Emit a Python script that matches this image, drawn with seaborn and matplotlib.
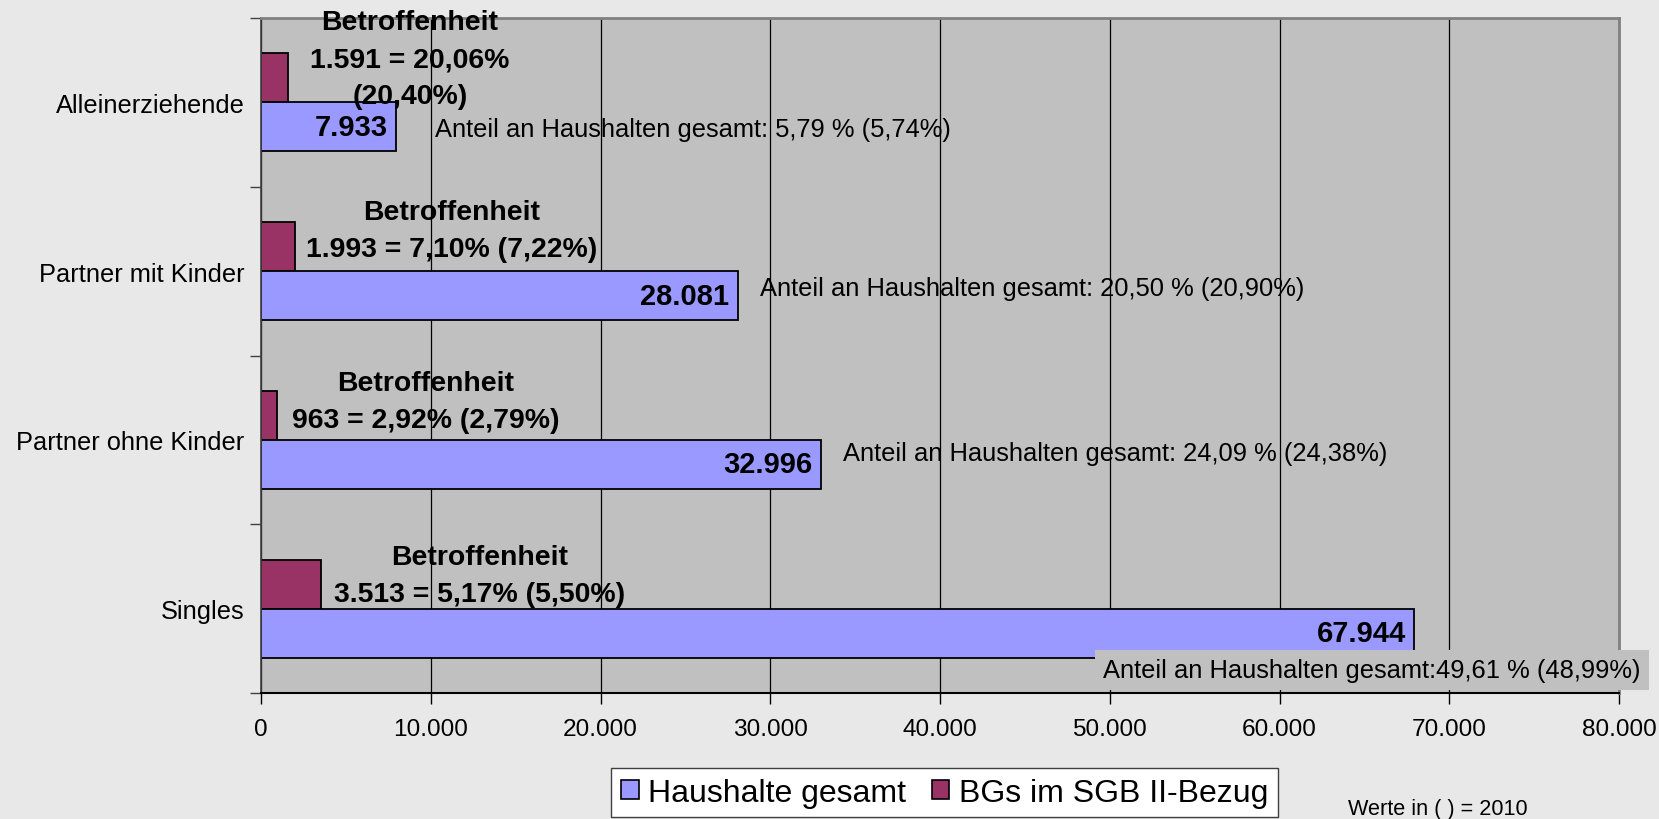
import seaborn as sns
import matplotlib.pyplot as plt
import pandas as pd
from matplotlib.patches import Patch
from matplotlib.ticker import FixedLocator, FuncFormatter

# data (2011, values in brackets = 2010)
categories = ["Alleinerziehende", "Partner mit Kinder", "Partner ohne Kinder", "Singles"]
haushalte = [7933, 28081, 32996, 67944]
bgs = [1591, 1993, 963, 3513]
betr_quote = ["20,06%", "7,10%", "2,92%", "5,17%"]
betr_quote_2010 = ["20,40%", "7,22%", "2,79%", "5,50%"]
anteil_labels = [
    "Anteil an Haushalten gesamt: 5,79 % (5,74%)",
    "Anteil an Haushalten gesamt: 20,50 % (20,90%)",
    "Anteil an Haushalten gesamt: 24,09 % (24,38%)",
    "Anteil an Haushalten gesamt:49,61 % (48,99%)",
]
series = ["Haushalte gesamt", "BGs im SGB II-Bezug"]
x_ticks = [0, 10000, 20000, 30000, 40000, 50000, 60000, 70000, 80000]

# label layout (data units)
betr_x = [8780, 11250, 9720, 12900]
betr_dy = [-0.255, -0.241, -0.23, -0.199]
anteil_x = [10250, 29400, 34290, 49600]
anteil_dy = [0.158, 0.10, 0.078, 0.364]

colors = {"Haushalte gesamt": "#9999ff", "BGs im SGB II-Bezug": "#993366"}


def de_num(v):
    return f"{int(v):,}".replace(",", ".")


df = pd.concat([
    pd.DataFrame({"Kategorie": categories, "Reihe": series[0], "Wert": haushalte}),
    pd.DataFrame({"Kategorie": categories, "Reihe": series[1], "Wert": bgs}),
])

sns.set_style("white")
plt.rcParams["font.family"] = ["Liberation Sans", "DejaVu Sans"]
plt.rcParams["text.color"] = "black"

fig = plt.figure(figsize=(16.59, 8.2), dpi=100, facecolor="#e8e8e8")
ax = fig.add_axes([261 / 1659, 1 - 694 / 820, 1358 / 1659, 675 / 820])
ax.set_facecolor("#c0c0c0")

sns.barplot(data=df, y="Kategorie", x="Wert", hue="Reihe", order=categories,
            hue_order=[series[1], series[0]], palette=colors, orient="h",
            width=0.58, saturation=1, edgecolor="black", linewidth=1.3,
            errorbar=None, legend=False, ax=ax)

ax.set_xlim(0, 80000)
ax.set_ylim(3.5, -0.5)
ax.set_xlabel("")
ax.set_ylabel("")

# grid + axes styling
ax.xaxis.set_major_locator(FixedLocator(x_ticks))
ax.xaxis.set_major_formatter(FuncFormatter(lambda v, _: de_num(v)))
ax.xaxis.grid(True, color="black", linewidth=0.9)
ax.set_axisbelow(True)
ax.yaxis.set_minor_locator(FixedLocator([i - 0.5 for i in range(len(categories) + 1)]))
ax.tick_params(axis="y", which="major", length=0, pad=12, labelsize=18.3, labelcolor="black")
ax.tick_params(axis="y", which="minor", length=8, width=1, color="#404040", left=True)
ax.tick_params(axis="x", length=8, width=1, color="black", pad=10, labelsize=17.6,
               bottom=True, labelcolor="black")
for side in ["top", "right"]:
    ax.spines[side].set_color("#808080")
    ax.spines[side].set_linewidth(2)
ax.spines["left"].set_color("#404040")
ax.spines["bottom"].set_color("black")
ax.spines["left"].set_linewidth(1.2)
ax.spines["bottom"].set_linewidth(1.5)

# value labels inside the blue bars
for patch, v in zip(ax.containers[1], haushalte):
    ax.annotate(de_num(v), (patch.get_width(), patch.get_y() + patch.get_height() / 2),
                xytext=(-6, 0), textcoords="offset points", ha="right", va="center",
                fontsize=21, fontweight="bold")

# Betroffenheit labels
for i, cat in enumerate(categories):
    sep = "\n" if i == 0 else " "
    txt = f"Betroffenheit\n{de_num(bgs[i])} = {betr_quote[i]}{sep}({betr_quote_2010[i]})"
    ax.text(betr_x[i], i + betr_dy[i], txt, ha="center", va="center",
            fontsize=20.4, fontweight="bold", linespacing=1.55)

# Anteil labels
for i, lab in enumerate(anteil_labels):
    kw = {}
    if i == len(categories) - 1:
        kw["bbox"] = dict(facecolor="#c0c0c0", edgecolor="none", pad=6)
    ax.text(anteil_x[i], i + anteil_dy[i], lab, ha="left", va="center",
            fontsize=18.4, clip_on=False, **kw)

handles = [Patch(facecolor=colors[s], edgecolor="black", linewidth=1.2) for s in series]
fig.legend(handles, series, loc="upper center", bbox_to_anchor=(0.5694, 1 - 769 / 820),
           ncol=2, frameon=True, fancybox=False, framealpha=1, edgecolor="#404040",
           fontsize=23, handlelength=0.55, handleheight=0.55, handletextpad=0.3,
           columnspacing=0.8, borderpad=0.3, borderaxespad=0)

fig.text(1348 / 1659, 1 - 815 / 820, "Werte in ( ) = 2010", fontsize=15.6,
         ha="left", va="baseline")

fig.savefig("out.png", dpi=100, facecolor=fig.get_facecolor())
